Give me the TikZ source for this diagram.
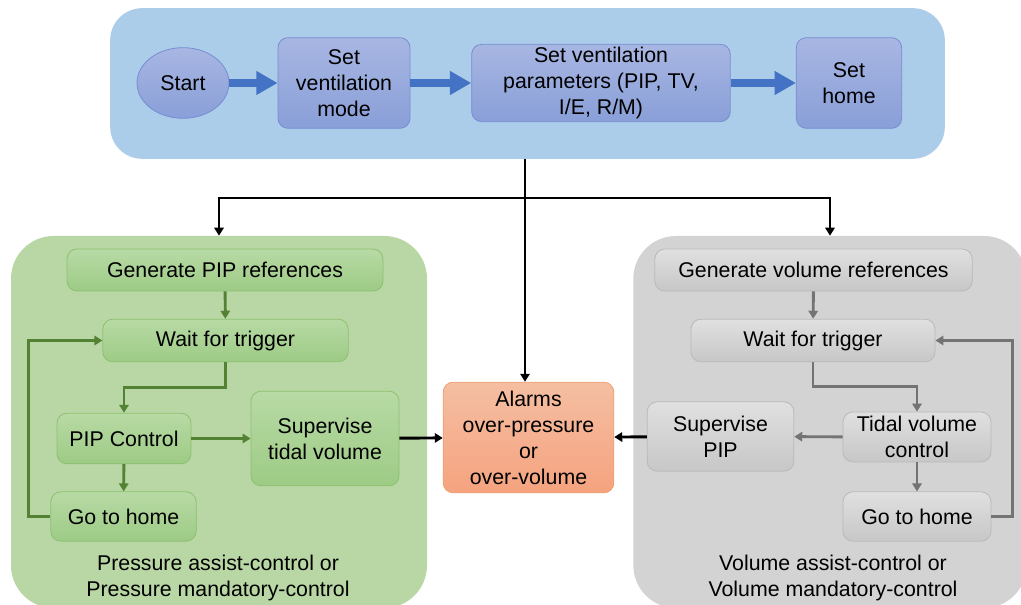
\documentclass[tikz,border=0pt]{standalone}
\usepackage{fontspec}
\setmainfont{Liberation Sans}
\usetikzlibrary{arrows.meta,shapes.geometric}
\definecolor{panelblue}{RGB}{172,205,233}
\definecolor{panelgreen}{RGB}{185,215,164}
\definecolor{panelgray}{RGB}{211,211,211}
\definecolor{bluetop}{RGB}{168,182,226}
\definecolor{bluebot}{RGB}{137,159,216}
\definecolor{blueline}{RGB}{118,140,210}
\definecolor{bluearrow}{RGB}{68,114,196}
\definecolor{greentop}{RGB}{184,218,165}
\definecolor{greenbot}{RGB}{157,203,133}
\definecolor{greenline}{RGB}{140,192,112}
\definecolor{greenarrow}{RGB}{84,130,53}
\definecolor{graytop}{RGB}{224,224,224}
\definecolor{graybot}{RGB}{199,199,199}
\definecolor{grayline}{RGB}{185,185,185}
\definecolor{grayarrow}{RGB}{115,115,115}
\definecolor{alarmtop}{RGB}{245,190,162}
\definecolor{alarmbot}{RGB}{245,163,127}
\definecolor{alarmline}{RGB}{240,160,112}
\tikzset{box/.style={rounded corners=7.5pt,draw,line width=0.6pt,align=center,inner sep=0pt},
 bluebox/.style={box,draw=blueline,top color=bluetop,bottom color=bluebot},
 greenbox/.style={box,draw=greenline,top color=greentop,bottom color=greenbot},
 graybox/.style={box,draw=grayline,top color=graytop,bottom color=graybot},
 alarmbox/.style={box,draw=alarmline,top color=alarmtop,bottom color=alarmbot},
 panel/.style={rounded corners=24pt,inner sep=0pt},
 caption/.style={align=center,inner sep=0pt},
 flow/.style={-{Triangle[length=16pt,width=17pt]},line width=6pt,bluearrow},
 link/.style={-{Triangle[length=6pt,width=7pt]},line width=2.2pt,black},
 greenlink/.style={-{Triangle[length=6pt,width=7pt]},line width=2.2pt,greenarrow},
 graylink/.style={-{Triangle[length=6pt,width=7pt]},line width=2.2pt,grayarrow},
 every node/.style={font=\fontsize{16}{19.5}\selectfont}}
\begin{document}
\begin{tikzpicture}[x=0.75pt,y=-0.75pt]
\useasboundingbox (0,0) rectangle (1021,605);
\node[panel,fill=panelblue,minimum width=626pt,minimum height=113pt] (panelTop) at (527.5,83.5) {};
\node[panel,rounded corners=32pt,fill=panelgreen,minimum width=312pt,minimum height=279pt] (panelP) at (219,422) {};
\node[panel,rounded corners=32pt,fill=panelgray,minimum width=295pt,minimum height=279pt] (panelV) at (830,422) {};
\node[bluebox,ellipse,rounded corners=0pt,minimum width=69pt,minimum height=53pt] (start) at (183,83) {Start};
\node[bluebox,minimum width=99pt,minimum height=68pt] (mode) at (344,83) {Set\\ventilation\\mode};
\node[bluebox,minimum width=194pt,minimum height=58pt] (params) at (601,83) {Set ventilation\\parameters (PIP, TV,\\I/E, R/M)};
\node[bluebox,minimum width=79pt,minimum height=68pt] (home) at (849,83) {Set\\home};
\node[greenbox,minimum width=237pt,minimum height=31.5pt] (genP) at (225,270) {Generate PIP references};
\node[greenbox,minimum width=184pt,minimum height=32pt] (waitP) at (225.5,340.5) {Wait for trigger};
\node[greenbox,minimum width=100.5pt,minimum height=38pt] (pipctl) at (124,438.5) {PIP Control};
\node[greenbox,minimum width=111pt,minimum height=71pt] (supTV) at (325,438.5) {Supervise\\tidal volume};
\node[greenbox,minimum width=109pt,minimum height=37pt] (homeP) at (123.5,516.5) {Go to home};
\node[caption] (capP) at (218,577.5) {Pressure assist-control or\\Pressure mandatory-control};
\node[graybox,minimum width=238pt,minimum height=31.5pt] (genV) at (813.5,270) {Generate volume references};
\node[graybox,minimum width=183pt,minimum height=32pt] (waitV) at (813,340.5) {Wait for trigger};
\node[graybox,minimum width=111pt,minimum height=37.5pt] (tvctl) at (917,437) {Tidal volume\\control};
\node[graybox,minimum width=110pt,minimum height=52pt] (supPIP) at (720.5,436.5) {Supervise\\PIP};
\node[graybox,minimum width=111pt,minimum height=37pt] (homeV) at (917,516.5) {Go to home};
\node[caption] (capV) at (833,577.5) {Volume assist-control or\\Volume mandatory-control};
\node[alarmbox,minimum width=128pt,minimum height=83pt] (alarms) at (528.5,437.5) {Alarms\\over-pressure\\or\\over-volume};
\coordinate (split) at (525,198);
\draw[flow] (start) -- (mode);
\draw[flow] (mode) -- (params);
\draw[flow] (params) -- (home);
\draw[line width=2.2pt] (split |- panelTop.south) -- (split);
\draw[link] (split) -| (panelP.north);
\draw[link] (split) -| (panelV.north);
\draw[link] (split) -- (split |- alarms.north);
\draw[greenlink] (genP) -- (waitP);
\draw[greenlink] (waitP.south) -- ++(0,25) -| (pipctl.north);
\draw[greenlink] (pipctl) -- (homeP);
\draw[greenlink] (pipctl) -- (supTV);
\draw[greenlink] (homeP.west) -- ++(-22,0) |- (waitP.west);
\draw[graylink] (genV) -- (waitV);
\draw[graylink] (waitV.south) -- ++(0,24) -| (tvctl.north);
\draw[graylink] (tvctl) -- (homeV);
\draw[graylink] (tvctl) -- (supPIP);
\draw[graylink] (homeV.east) -- ++(21,0) |- (waitV.east);
\draw[link] (supTV) -- (alarms);
\draw[link] (supPIP) -- (alarms);
\end{tikzpicture}
\end{document}
